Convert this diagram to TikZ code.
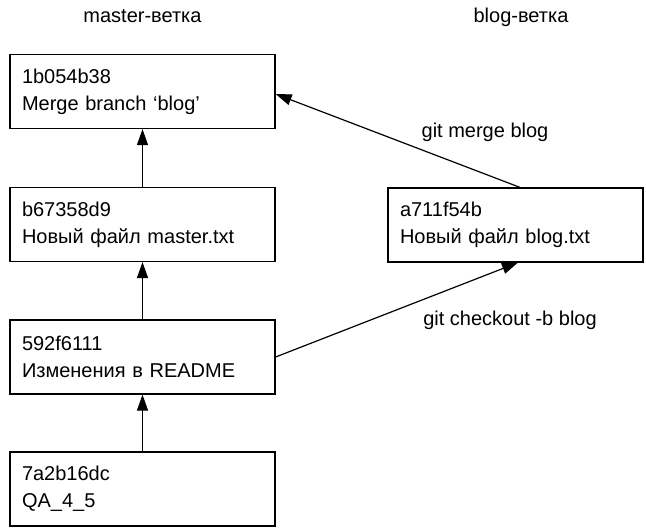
\documentclass[tikz,border=0pt]{standalone}
\usepackage{fontspec}
\setmainfont{Liberation Sans}
\usetikzlibrary{arrows.meta,positioning}
\begin{document}
\begin{tikzpicture}[x=1pt,y=-1pt,
  commit/.style={draw,line width=1.2pt,rectangle,inner xsep=12pt,inner ysep=0pt,
    minimum height=74pt,align=left,font=\fontsize{20}{27}\selectfont},
  mcommit/.style={commit,text width=241pt},
  bcommit/.style={commit,text width=231pt},
  lbl/.style={anchor=base,font=\fontsize{20}{24}\selectfont,inner sep=0pt},
  conn/.style={line width=1.2pt,-{Triangle[length=16pt,width=11pt]}}]
\useasboundingbox (0,0) rectangle (646,528);
\node[lbl] (hm) at (142.5,22) {master-ветка};
\node[lbl] (hb) at (521,22) {blog-ветка};
\node[mcommit] (m1) at (142.5,91.5) {1b054b38\\Merge branch ‘blog’};
\node[mcommit] (m2) at (142.5,224.5) {b67358d9\\Новый файл master.txt};
\node[mcommit] (m3) at (142.5,357) {592f6111\\Изменения в README};
\node[mcommit] (m4) at (142.5,489) {7a2b16dc\\QA\_4\_5};
\node[bcommit] (b1) at (515.5,225) {a711f54b\\Новый файл blog.txt};
\draw[conn] (m2.north) -- (m1.south);
\draw[conn] (m3.north) -- (m2.south);
\draw[conn] (m4.north) -- (m3.south);
\draw[conn] ([xshift=4.5pt]b1.north) -- ([yshift=-2.5pt]m1.east);
\draw[conn] (m3.east) -- ([xshift=2.5pt]b1.south);
\node[lbl] (lm) at (485,137) {git merge blog};
\node[lbl] (lc) at (510,325) {git checkout -b blog};
\end{tikzpicture}
\end{document}
